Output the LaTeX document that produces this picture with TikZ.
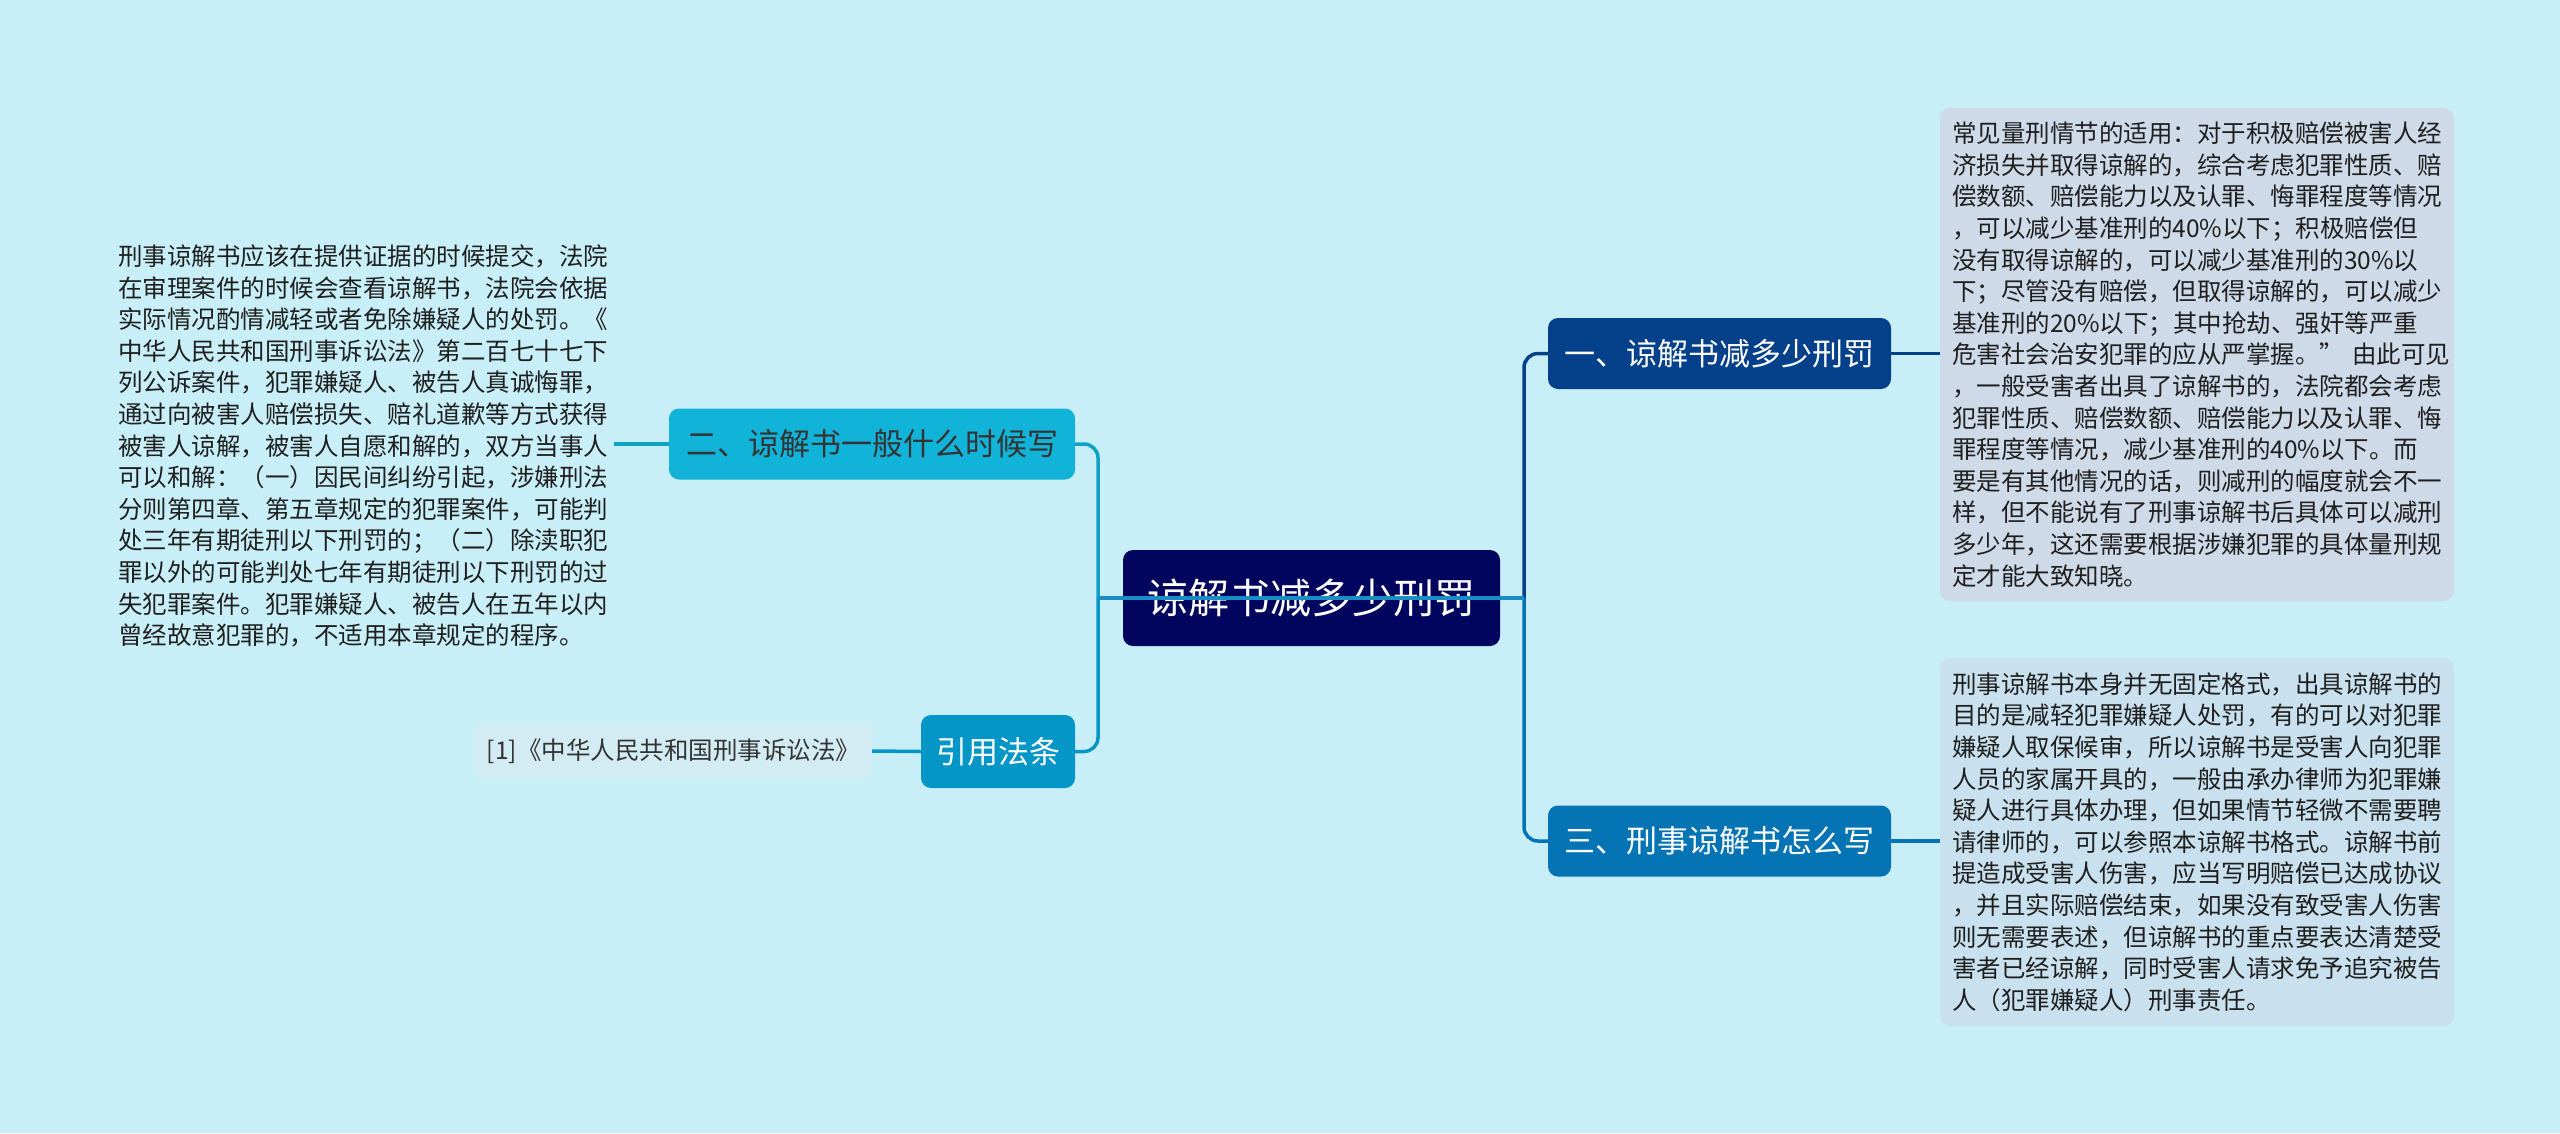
\documentclass[tikz,border=0pt]{standalone}
\usepackage{fontspec}
\setmainfont{Noto Sans CJK SC}
\usetikzlibrary{positioning,calc}
\definecolor{bgcol}{HTML}{C8EFF8}
\definecolor{rootcol}{HTML}{02055E}
\definecolor{onecol}{HTML}{05408A}
\definecolor{twocol}{HTML}{12B3D9}
\definecolor{threecol}{HTML}{0474B4}
\definecolor{lawcol}{HTML}{0596C8}
\definecolor{notecol}{HTML}{CFDAE9}
\definecolor{notecolb}{HTML}{C9E1EE}
\definecolor{citecol}{HTML}{D3ECF4}
\definecolor{midline}{HTML}{1A8CC6}

\begin{document}
\begin{tikzpicture}[x=1pt, y=-1pt,
    rootbox/.style={rectangle, fill=rootcol, rounded corners=10pt, minimum width=377pt, minimum height=96pt, text=white, font=\fontsize{41}{46}\selectfont},
    topic/.style={rectangle, rounded corners=10pt, minimum height=71pt, inner xsep=0pt, text=white, font=\fontsize{31}{36}\selectfont},
    detail/.style={rectangle, rounded corners=10pt, text width=490pt, inner xsep=12pt, align=left, text=black!88, font=\fontsize{24.5}{31.6}\selectfont},
    link/.style={line width=3.5pt, rounded corners=14pt}
]
\fill[bgcol] (0,0) rectangle (2560,1133);
\useasboundingbox (0,0) rectangle (2560,1133);

% Root
\node[rootbox] (r) at (1311.5,598) {谅解书减多少刑罚};

% Topic 1: right, top
\node[topic, fill=onecol, minimum width=343pt] (t1) at (1719.5,353.5) {一、谅解书减多少刑罚};
\node[detail, fill=notecol, minimum height=493pt] (d1) at (2197,354.5) {
    常见量刑情节的适用：对于积极赔偿被害人经\\
    济损失并取得谅解的，综合考虑犯罪性质、赔\\
    偿数额、赔偿能力以及认罪、悔罪程度等情况\\
    ，可以减少基准刑的40\%以下；积极赔偿但\\
    没有取得谅解的，可以减少基准刑的30\%以\\
    下；尽管没有赔偿，但取得谅解的，可以减少\\
    基准刑的20\%以下；其中抢劫、强奸等严重\\
    危害社会治安犯罪的应从严掌握。”~由此可见\\
    ，一般受害者出具了谅解书的，法院都会考虑\\
    犯罪性质、赔偿数额、赔偿能力以及认罪、悔\\
    罪程度等情况，减少基准刑的40\%以下。而\\
    要是有其他情况的话，则减刑的幅度就会不一\\
    样，但不能说有了刑事谅解书后具体可以减刑\\
    多少年，这还需要根据涉嫌犯罪的具体量刑规\\
    定才能大致知晓。
};

% Topic 2: left, top
\node[topic, fill=twocol, text=black!80, minimum width=406pt] (t2) at (872,444) {二、谅解书一般什么时候写};
\node[detail, text width=496pt, inner xsep=0pt] (d2) at (366,446) {
    刑事谅解书应该在提供证据的时候提交，法院\\
    在审理案件的时候会查看谅解书，法院会依据\\
    实际情况酌情减轻或者免除嫌疑人的处罚。《\\
    中华人民共和国刑事诉讼法》第二百七十七下\\
    列公诉案件，犯罪嫌疑人、被告人真诚悔罪，\\
    通过向被害人赔偿损失、赔礼道歉等方式获得\\
    被害人谅解，被害人自愿和解的，双方当事人\\
    可以和解：（一）因民间纠纷引起，涉嫌刑法\\
    分则第四章、第五章规定的犯罪案件，可能判\\
    处三年有期徒刑以下刑罚的；（二）除渎职犯\\
    罪以外的可能判处七年有期徒刑以下刑罚的过\\
    失犯罪案件。犯罪嫌疑人、被告人在五年以内\\
    曾经故意犯罪的，不适用本章规定的程序。
};

% Topic 3: right, bottom
\node[topic, fill=threecol, minimum width=343pt] (t3) at (1719.5,841) {三、刑事谅解书怎么写};
\node[detail, fill=notecolb, minimum height=368pt] (d3) at (2197,842) {
    刑事谅解书本身并无固定格式，出具谅解书的\\
    目的是减轻犯罪嫌疑人处罚，有的可以对犯罪\\
    嫌疑人取保候审，所以谅解书是受害人向犯罪\\
    人员的家属开具的，一般由承办律师为犯罪嫌\\
    疑人进行具体办理，但如果情节轻微不需要聘\\
    请律师的，可以参照本谅解书格式。谅解书前\\
    提造成受害人伤害，应当写明赔偿已达成协议\\
    ，并且实际赔偿结束，如果没有致受害人伤害\\
    则无需要表述，但谅解书的重点要表达清楚受\\
    害者已经谅解，同时受害人请求免予追究被告\\
    人（犯罪嫌疑人）刑事责任。
};

% Cited law
\node[topic, fill=lawcol, minimum width=154pt, minimum height=73pt] (t4) at (998,751.5) {引用法条};
\node[rectangle, fill=citecol, rounded corners=8pt, minimum width=397pt, minimum height=54pt, text=black!80, font=\fontsize{24.5}{30}\selectfont] (d4) at (673.5,751) {[1]《中华人民共和国刑事诉讼法》};

% Connectors
\coordinate (lj) at (1098,598);
\coordinate (rj) at (1524,598);
\draw[link, draw=twocol!90!black] (lj) |- (t2.east);
\draw[link, draw=lawcol] (lj) |- (t4.east);
\draw[link, draw=onecol] (rj) |- (t1.west);
\draw[link, draw=threecol] (rj) |- (t3.west);
\draw[link, draw=midline] (lj) -- (rj);
\draw[link, draw=onecol] (t1.east) -- (d1.west |- t1.east);
\draw[link, draw=threecol] (t3.east) -- (d3.west |- t3.east);
\draw[link, draw=twocol!90!black] (t2.west) -- (d2.east |- t2.west);
\draw[link, draw=lawcol] (t4.west) -- (d4.east);

\end{tikzpicture}
\end{document}
